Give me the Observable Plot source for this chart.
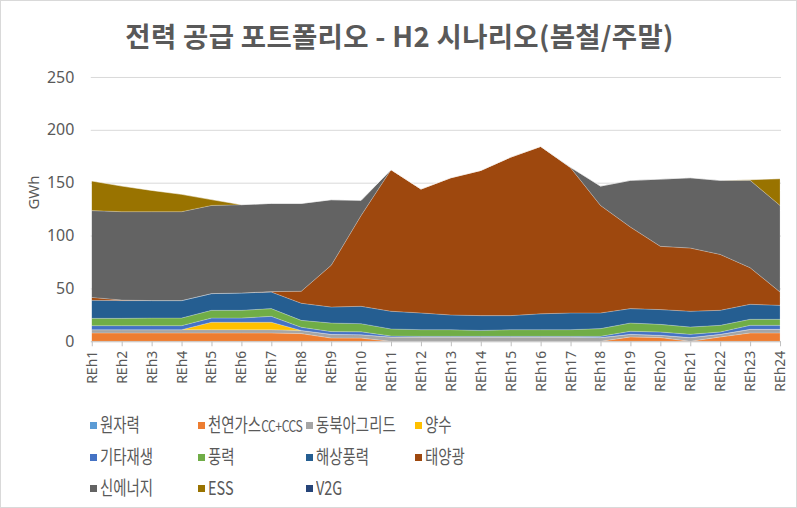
<!DOCTYPE html>
<html><head><meta charset="utf-8">
<script src="https://cdn.jsdelivr.net/npm/d3@7"></script>
<script src="https://cdn.jsdelivr.net/npm/@observablehq/plot@0.6"></script>
<style>
html,body{margin:0;padding:0;background:#fff;}
#wrap{position:relative;width:797px;height:508px;box-sizing:border-box;border:1px solid #d9d9d9;overflow:hidden;font-family:"Noto Sans CJK KR","Noto Sans",sans-serif;color:#595959;}
#title{position:absolute;left:0;width:797px;top:14px;text-align:center;font-size:27.5px;font-weight:bold;color:#595959;letter-spacing:0.3px;}
#chart{position:absolute;left:0;top:60px;}
#legend{position:absolute;left:0;top:0;}
.li{position:absolute;font-size:19px;color:#595959;white-space:nowrap;line-height:22px;}
.li i{display:inline-block;width:7px;height:7px;margin-right:3px;vertical-align:middle;position:relative;top:-1px;}
.li span.t{display:inline-block;transform:scaleX(0.76);transform-origin:left center;}
.small{font-size:16px;letter-spacing:-0.6px;}
</style></head>
<body><div id="wrap"><div id="title">전력 공급 포트폴리오 - H2 시나리오(봄철/주말)</div><div id="chart"></div><div id="legend"></div></div>
<script>
const hours = ["REh1","REh2","REh3","REh4","REh5","REh6","REh7","REh8","REh9","REh10","REh11","REh12","REh13","REh14","REh15","REh16","REh17","REh18","REh19","REh20","REh21","REh22","REh23","REh24"];
const seriesNames = ["원자력","천연가스CC+CCS","동북아그리드","양수","기타재생","풍력","해상풍력","태양광","신에너지","ESS","V2G"];
const seriesColors = ["#5B9BD5","#ED7D31","#A5A5A5","#FFC000","#4472C4","#70AD47","#255E91","#9E480E","#636363","#997300","#264478"];
const yTicks = [0,50,100,150,200,250];

const nuclear  = [0,0,0,0,0,0,0,0,0,0,0,0,0,0,0,0,0,0,0,0,0,0,0,0];
const gas      = [7.9,7.9,7.9,7.9,7.9,7.9,7.9,7.3,3.1,3.0,0,0,0,0,0,0,0,0,4.1,3.5,0,4.1,7.9,7.9];
const grid     = [3.1,3.1,3.1,3.1,3.1,3.1,3.1,3.0,3.5,3.3,4,4,4,4,4,4,4,3.5,2.5,2.2,3.5,2.5,3.4,3.4];
const pumped   = [0,0,0,0,7,7,7,0,0,0,0,0,0,0,0,0,0,0,0,0,0,0,0,0];
const otherRen = [3.8,3.8,3.8,3.8,4,4,5.6,3,2.6,2.7,1,0.7,0.7,0.7,0.7,0.7,0.7,1.2,2.9,3.1,3.1,2.2,3.8,3.8];
const wind     = [6.9,6.9,7.2,7.2,7.3,7.3,7.3,6.5,8.1,7.7,6.7,6.3,6.3,5.6,6.3,6.3,6.3,7.3,7.8,7.2,6.9,6.3,5.7,5.7];
const offshore = [17.1,16.8,16.5,16.5,15.8,16.4,15.7,16.2,15.1,16.4,16.7,15.8,13.9,14.0,13.3,15.0,15.8,14.8,13.6,14.0,14.9,14.2,14.2,13.2];
const solar    = [2.7,0.5,0,0,0,0,0.4,11.3,39.4,85.9,133.9,117.2,129.8,137.3,149.9,158.3,137.3,101.7,77.1,59.8,59.8,52.9,34.6,12.6];
const newEnergy= [82.1,83.6,84.1,84.1,83.4,83.5,83.4,83.1,62.1,14.3,0,0,0,0,0,0,0.5,18.3,44.2,63.6,66.5,70,82.6,81.9];
const ess      = [28,24.2,20.1,16.4,5.5,0,0,0,0,0,0,0,0,0,0,0,0,0,0,0,0,0,0.6,25.3];
const v2g      = [0,0,0,0,0,0,0,0,0,0,0,0,0,0,0,0,0,0,0,0,0,0,0,0];

const seriesValues = [nuclear,gas,grid,pumped,otherRen,wind,offshore,solar,newEnergy,ess,v2g];
const rows = [];
seriesNames.forEach((s,si)=>hours.forEach((h,hi)=>rows.push({hour:h,series:s,value:seriesValues[si][hi]})));

const chart = Plot.plot({
  width: 797, height: 345,
  marginLeft: 90, marginRight: 15, marginTop: 16, marginBottom: 64,
  style: {fontFamily: '"Noto Sans","Noto Sans CJK KR",sans-serif', color:"#595959", background:"transparent"},
  x: {type:"point", domain: hours, padding: 0},
  y: {domain:[0,250]},
  color: {domain: seriesNames, range: seriesColors},
  marks: [
    Plot.gridY(yTicks.slice(1), {stroke:"#d9d9d9", strokeOpacity:1}),
    Plot.areaY(rows, {x:"hour", y:"value", z:"series", fill:"series", order: seriesNames, stroke:"#ffffff", strokeOpacity:0.35, strokeWidth:0.6}),
    Plot.ruleY([0], {stroke:"#bfbfbf"}),
    Plot.axisY({ticks: yTicks, tickSize:0, tickPadding:17, fontSize:16, fill:"#595959", label:null}),
    Plot.axisX({tickRotate:-90, tickSize:5, tickPadding:4, fontSize:14, fill:"#595959", stroke:"#bfbfbf", label:null}),
    Plot.text(["GWh"], {frameAnchor:"left", dx:-57, dy:0, rotate:-90, fontSize:15, fill:"#595959"})
  ]
});
document.getElementById("chart").appendChild(chart);

const legendPos = [[89,424],[197,424],[305,424],[414,424],[89,456],[197,456],[305,456],[414,456],[89,487],[197,487],[305,487]];
const lg = document.getElementById("legend");
seriesNames.forEach((s,i)=>{
  const d = document.createElement("div");
  d.className = "li";
  d.style.left = legendPos[i][0] + "px";
  d.style.top = (legendPos[i][1]-12) + "px";
  const label = s === "천연가스CC+CCS" ? '천연가스<span class="small">CC+CCS</span>' : s;
  d.innerHTML = `<i style="background:${seriesColors[i]}"></i><span class="t">${label}</span>`;
  lg.appendChild(d);
});
</script></body></html>
